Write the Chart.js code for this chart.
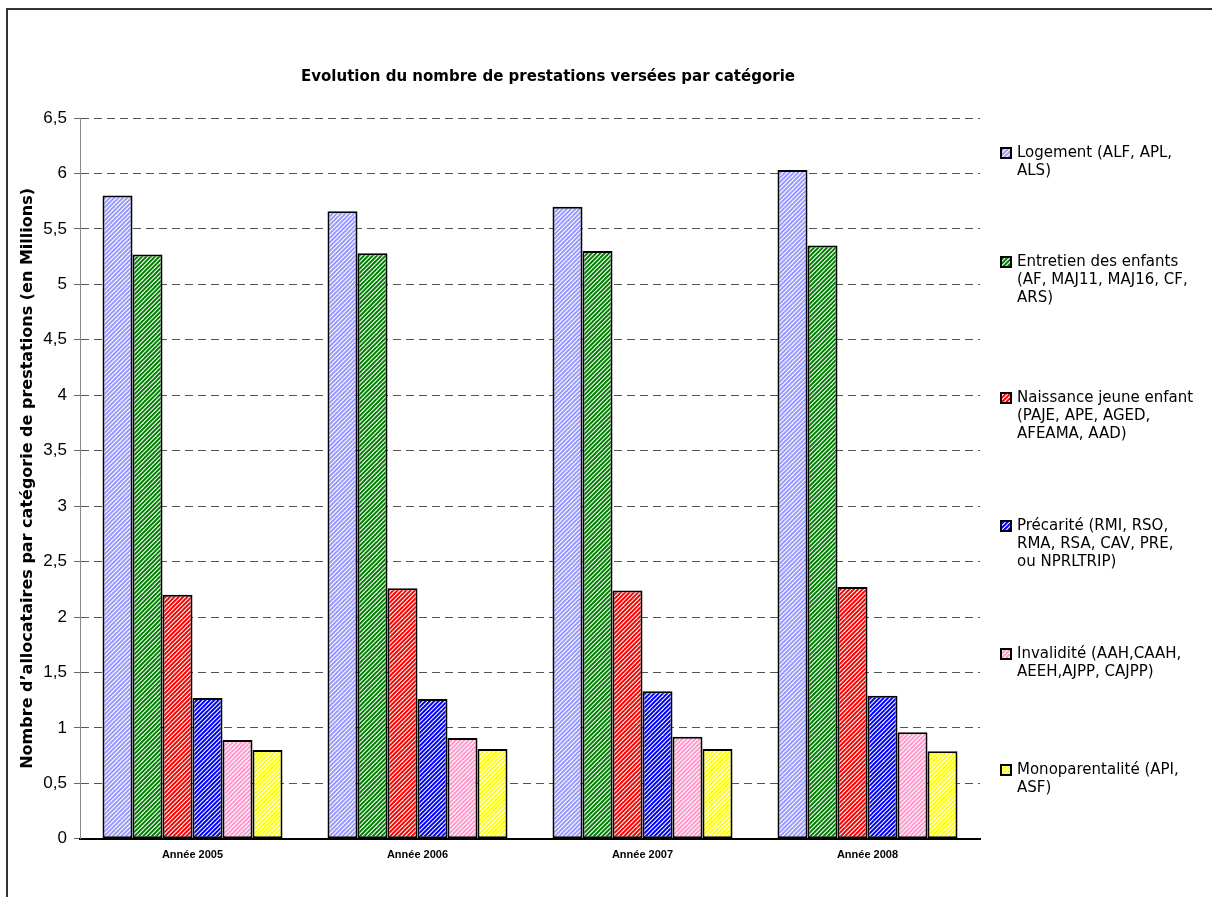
<!DOCTYPE html>
<html>
<head>
	<title>Evolution du nombre de prestations</title>
	<script src="https://cdn.jsdelivr.net/npm/chart.js@4.4.0/dist/chart.umd.min.js"></script>
	<style>
		html, body {margin: 0; padding: 0; background: #fff;}
		.frame {position: absolute; left: 6px; top: 8px; width: 1400px; height: 1000px;
			border-left: 2px solid #333; border-top: 2px solid #333;}
		.wrap {position: absolute; left: 0; top: 0; width: 1212px; height: 897px;}
	</style>
</head>
<body>
<div class="frame"></div>
<div class="wrap"><canvas id="myChart" width="1212" height="897"></canvas></div>

<script>
// data
var categories = ['Année 2005', 'Année 2006', 'Année 2007', 'Année 2008'];
var logement = [5.80, 5.66, 5.70, 6.03];
var entretien = [5.27, 5.28, 5.30, 5.35];
var naissance = [2.20, 2.26, 2.24, 2.27];
var precarite = [1.27, 1.26, 1.33, 1.29];
var invalidite = [0.89, 0.91, 0.92, 0.96];
var monoparentalite = [0.80, 0.81, 0.81, 0.79];

var seriesNames = [
	'Logement (ALF, APL, ALS)',
	'Entretien des enfants (AF, MAJ11, MAJ16, CF, ARS)',
	'Naissance jeune enfant (PAJE, APE, AGED, AFEAMA, AAD)',
	'Précarité (RMI, RSO, RMA, RSA, CAV, PRE, ou NPRLTRIP)',
	'Invalidité (AAH,CAAH, AEEH,AJPP, CAJPP)',
	'Monoparentalité (API, ASF)'
];
// how the legend wraps each name
var legendLines = [
	['Logement (ALF, APL,', 'ALS)'],
	['Entretien des enfants', '(AF, MAJ11, MAJ16, CF,', 'ARS)'],
	['Naissance jeune enfant', '(PAJE, APE, AGED,', 'AFEAMA, AAD)'],
	['Précarité (RMI, RSO,', 'RMA, RSA, CAV, PRE,', 'ou NPRLTRIP)'],
	['Invalidité (AAH,CAAH,', 'AEEH,AJPP, CAJPP)'],
	['Monoparentalité (API,', 'ASF)']
];
var seriesColors = ['#9999ff', '#008000', '#ff0000', '#0000ff', '#ff99cc', '#ffff00'];
var chartTitle = 'Evolution du nombre de prestations versées par catégorie';
var yTitle = 'Nombre d\u2019allocataires par catégorie de prestations (en Millions)';

// diagonal hatch like the excel pattern fill (3 stripes per 13px tile)
function hatch(color) {
	var s = 13;
	var c = document.createElement('canvas');
	c.width = s; c.height = s;
	var g = c.getContext('2d');
	g.fillStyle = '#fff';
	g.fillRect(0, 0, s, s);
	g.strokeStyle = color;
	g.lineWidth = 2.0;
	for (var k = -3; k <= 6; k++) {
		var d = k * s / 3;
		g.beginPath();
		g.moveTo(d + 3, -3);
		g.lineTo(d - s - 3, s + 3);
		g.stroke();
	}
	return g.createPattern(c, 'repeat');
}

var values = [logement, entretien, naissance, precarite, invalidite, monoparentalite];
var datasets = [];
for (var i = 0; i < values.length; i++) {
	datasets.push({
		label: seriesNames[i],
		data: values[i],
		backgroundColor: hatch(seriesColors[i]),
		borderColor: '#000',
		borderWidth: 2,
		borderSkipped: false,
		categoryPercentage: 0.8,
		barPercentage: 1.0
	});
}

var legendFirstLineY = [153, 262, 398, 526, 654, 770];

var extras = {
	id: 'extras',
	afterDraw: function(chart) {
		var ctx = chart.ctx;
		ctx.save();
		// title
		ctx.fillStyle = '#000';
		ctx.font = 'bold 15px "DejaVu Sans"';
		ctx.textAlign = 'center';
		ctx.textBaseline = 'middle';
		ctx.fillText(chartTitle, 548, 77);
		// legend
		ctx.textAlign = 'left';
		ctx.font = '15px "DejaVu Sans"';
		chart.data.datasets.forEach(function(ds, k) {
			var y0 = legendFirstLineY[k];
			ctx.fillStyle = ds.backgroundColor;
			ctx.fillRect(1001, y0 - 5, 10, 10);
			ctx.strokeStyle = '#000';
			ctx.lineWidth = 2;
			ctx.strokeRect(1001, y0 - 5, 10, 10);
			ctx.fillStyle = '#000';
			legendLines[k].forEach(function(line, j) {
				ctx.fillText(line, 1017, y0 + j * 18);
			});
		});
		ctx.restore();
	}
};

var ctx = document.getElementById('myChart').getContext('2d');
var chart = new Chart(ctx, {
	type: 'bar',
	data: {
		labels: categories,
		datasets: datasets
	},
	plugins: [extras],
	options: {
		responsive: false,
		animation: false,
		layout: {padding: {left: 0, top: 118, right: 232, bottom: 25}},
		plugins: {
			legend: {display: false},
			title: {display: false},
			tooltip: {enabled: false}
		},
		scales: {
			x: {
				grid: {display: false, drawTicks: false},
				border: {display: true, color: '#000', width: 2},
				ticks: {
					color: '#000',
					padding: 10,
					font: {family: '"Liberation Sans", Arial', size: 11, weight: 'bold'}
				}
			},
			y: {
				min: 0,
				max: 6.5,
				afterFit: function(scale) { scale.width = 80; },
				grid: {color: '#555', lineWidth: 1, tickLength: 6, tickColor: '#666'},
				border: {display: true, color: '#888', width: 1, dash: [8, 5]},
				ticks: {
					stepSize: 0.5,
					color: '#000',
					padding: 7,
					font: {family: '"Liberation Sans", Arial', size: 17},
					callback: function(v) { return String(v).replace('.', ','); }
				},
				title: {
					display: true,
					text: yTitle,
					color: '#000',
					padding: {top: 18, bottom: 0},
					font: {family: '"DejaVu Sans"', size: 16, weight: 'bold'}
				}
			}
		}
	}
});
</script>
</body>
</html>
